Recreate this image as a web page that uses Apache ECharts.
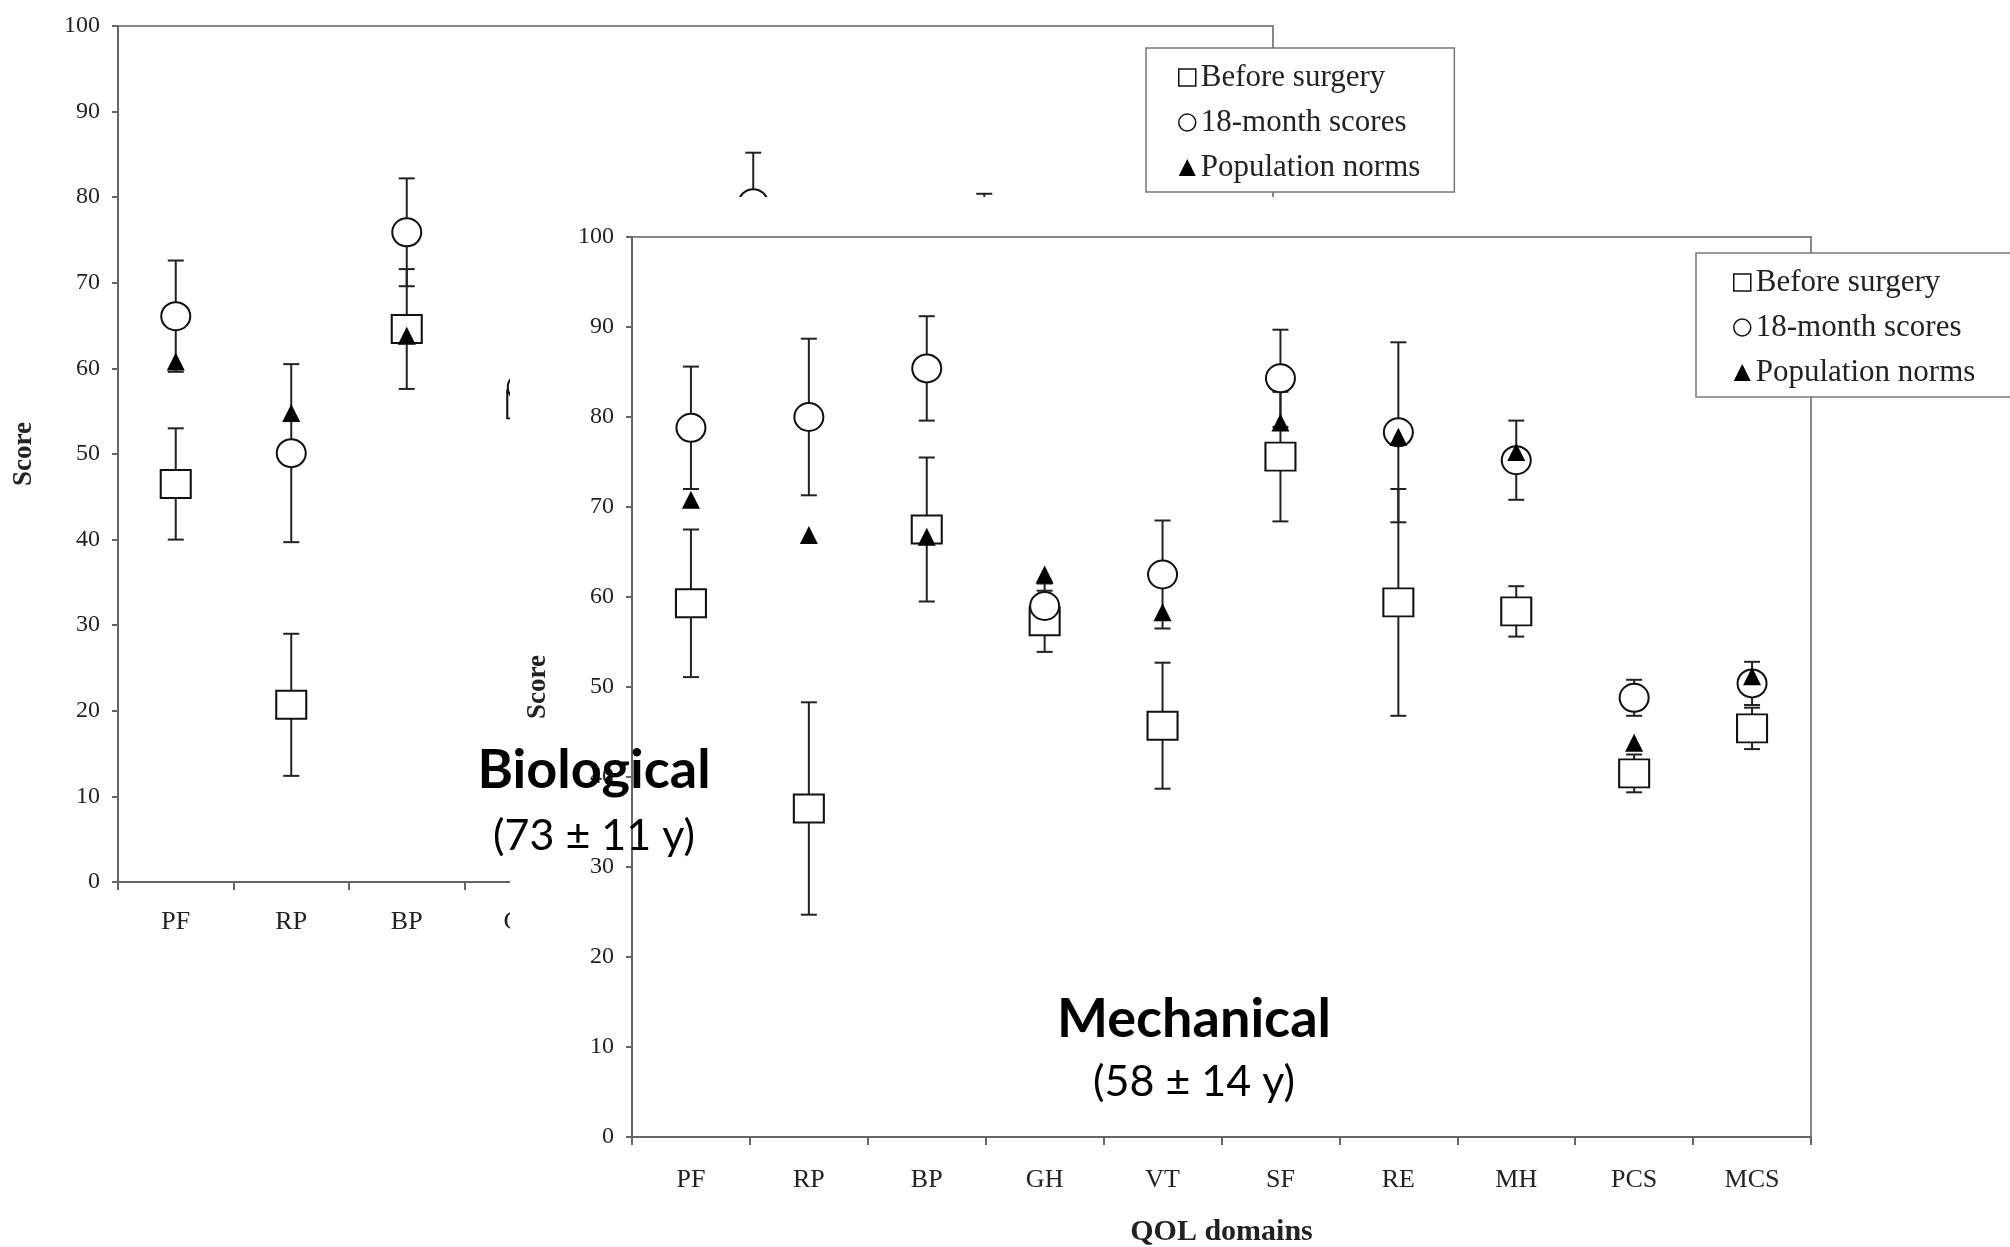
<!DOCTYPE html>
<html><head><meta charset="utf-8">
<script src="https://cdn.jsdelivr.net/npm/echarts@6/dist/echarts.min.js"></script>
<style>html,body{margin:0;padding:0;background:#fff}#c{width:2010px;height:1247px}</style>
</head><body><div id="c"></div>
<script>
// ---- data ----
const categories = ['PF','RP','BP','GH','VT','SF','RE','MH','PCS','MCS'];
const seriesNames = ['Before surgery','18-month scores','Population norms'];

// Mechanical (front chart)
const mechBefore   = [59.3, 36.5, 67.5, 57.3, 45.7, 75.6, 59.4, 58.4, 40.4, 45.4];
const mechBeforeSD = [8.2, 11.8, 8.0, 3.4, 7.0, 7.2, 12.6, 2.8, 2.1, 2.3];
const mech18       = [78.8, 80.0, 85.4, 59.0, 62.5, 84.3, 78.3, 75.2, 48.8, 50.4];
const mech18SD     = [6.8, 8.7, 5.8, 2.5, 6.0, 5.4, 10.0, 4.4, 2.0, 2.4];
const mechNorms    = [70.8, 66.9, 66.7, 62.5, 58.3, 79.4, 77.8, 76.1, 43.8, 51.2];

// Biological (back chart, mostly hidden behind the front chart)
const bioBefore   = [46.5, 20.7, 64.6, 55.8, null, null, null, null, null, null];
const bioBeforeSD = [6.5, 8.3, 7.0, null, null, null, null, null, null, null];
const bio18       = [66.1, 50.1, 75.9, 57.8, null, 79.3, null, 74.0, null, null];
const bio18SD     = [6.5, 10.4, 6.3, null, null, 5.9, null, 6.4, null, null];
const bioNorms    = [60.8, 54.8, 63.8, null, null, null, null, null, null, null];

const annotations = [
  {text: 'Biological', x: 594, y: 771, bold: true},
  {text: '(73 \u00B1 11 y)', x: 594, y: 836, bold: false},
  {text: 'Mechanical', x: 1194, y: 1020, bold: true},
  {text: '(58 \u00B1 14 y)', x: 1194, y: 1082, bold: false}
];

// ---- helpers ----
const SERIF = '"Liberation Serif","Times New Roman",serif';
function vals(a){ return a.map(v => v == null ? '-' : v); }
function errData(m, s){
  const out = [];
  m.forEach((v, i) => { if (v != null && s[i] != null) out.push([i, v, s[i]]); });
  return out;
}
function errRender(params, api){
  const i = api.value(0), m = api.value(1), s = api.value(2);
  const hi = api.coord([i, m + s]), lo = api.coord([i, m - s]);
  const x = hi[0], w = 8;
  const style = {stroke: '#222', lineWidth: 2, fill: null};
  return {type: 'group', children: [
    {type: 'line', shape: {x1: x, y1: hi[1], x2: x, y2: lo[1]}, style: style},
    {type: 'line', shape: {x1: x - w, y1: hi[1], x2: x + w, y2: hi[1]}, style: style},
    {type: 'line', shape: {x1: x - w, y1: lo[1], x2: x + w, y2: lo[1]}, style: style}
  ]};
}
function makeSeries(g, zb, before, beforeSD, m18, m18SD, norms){
  return [
    {type: 'custom', name: 'err-b-' + g, xAxisIndex: g, yAxisIndex: g, z: zb,
     renderItem: errRender, data: errData(before, beforeSD), encode: {x: 0, y: 1}, silent: true},
    {type: 'custom', name: 'err-m-' + g, xAxisIndex: g, yAxisIndex: g, z: zb,
     renderItem: errRender, data: errData(m18, m18SD), encode: {x: 0, y: 1}, silent: true},
    {type: 'scatter', name: seriesNames[0], xAxisIndex: g, yAxisIndex: g, z: zb + 1,
     symbol: 'rect', symbolSize: [30, 28], data: vals(before),
     itemStyle: {color: '#fff', borderColor: '#111', borderWidth: 2, opacity: 1}},
    {type: 'scatter', name: seriesNames[1], xAxisIndex: g, yAxisIndex: g, z: zb + 2,
     symbol: 'circle', symbolSize: [29, 28], data: vals(m18),
     itemStyle: {color: '#fff', borderColor: '#111', borderWidth: 2, opacity: 1}},
    {type: 'scatter', name: seriesNames[2], xAxisIndex: g, yAxisIndex: g, z: zb + 3,
     symbol: 'triangle', symbolSize: [18, 18], data: vals(norms),
     itemStyle: {color: '#000', opacity: 1}}
  ];
}
function makeLegend(left, top, padding, z){
  return {
    orient: 'vertical', left: left, top: top, padding: padding, itemGap: 14,
    itemWidth: 17, itemHeight: 17, z: z, selectedMode: false,
    backgroundColor: '#fff', borderColor: '#777', borderWidth: 1.5, borderRadius: 0,
    textStyle: {fontFamily: SERIF, fontSize: 31, color: '#222', lineHeight: 30},
    data: [
      {name: seriesNames[0], icon: 'rect', itemStyle: {color: '#fff', borderColor: '#111', borderWidth: 1.5}},
      {name: seriesNames[1], icon: 'circle', itemStyle: {color: '#fff', borderColor: '#111', borderWidth: 1.5}},
      {name: seriesNames[2], icon: 'triangle', itemStyle: {color: '#000', borderWidth: 0}}
    ]
  };
}
function xAx(g, z, name, margin){
  return {type: 'category', gridIndex: g, data: categories, z: z,
    boundaryGap: true,
    axisLine: {lineStyle: {color: '#666', width: 2}},
    axisTick: {show: true, length: 8, lineStyle: {color: '#666', width: 2}},
    axisLabel: {fontFamily: SERIF, fontSize: 26, color: '#222', margin: margin},
    name: name, nameLocation: 'middle', nameGap: 80,
    nameTextStyle: {fontFamily: SERIF, fontSize: 30, fontWeight: 'bold', color: '#222'}};
}
function yAx(g, z){
  return {type: 'value', gridIndex: g, min: 0, max: 100, interval: 10, z: z,
    axisLine: {show: true, lineStyle: {color: '#666', width: 2}},
    axisTick: {show: true, length: 6, lineStyle: {color: '#666', width: 2}},
    splitLine: {show: false},
    axisLabel: {fontFamily: SERIF, fontSize: 24, color: '#222', margin: 18},
    name: 'Score', nameLocation: 'middle', nameGap: 80,
    nameTextStyle: {fontFamily: SERIF, fontSize: 27, fontWeight: 'bold', color: '#222'}};
}

const chart = echarts.init(document.getElementById('c'), null, {renderer: 'canvas'});
const option = {
  backgroundColor: '#fff',
  animation: false,
  grid: [
    {left: 118, top: 26, width: 1155, height: 856, show: true, borderColor: '#888', borderWidth: 2, z: 0,
     containLabel: false, outerBoundsMode: 'none'},
    {left: 632, top: 237, width: 1179, height: 900, show: true, borderColor: '#888', borderWidth: 2, z: 11,
     containLabel: false, outerBoundsMode: 'none'}
  ],
  xAxis: [xAx(0, 1, '', 27), xAx(1, 12, 'QOL domains', 30)],
  yAxis: [yAx(0, 1), yAx(1, 12)],
  legend: [
    makeLegend(1146, 48, [14, 34, 9, 32], 6),
    makeLegend(1696, 253, [14, 80, 9, 37], 18)
  ],
  graphic: {elements: [
    {type: 'rect', left: 510, top: 197, z: 10,
     shape: {x: 0, y: 0, width: 1500, height: 1050},
     style: {fill: '#fff'}, silent: true}
  ].concat(annotations.map(a => ({
     type: 'text', x: a.x, y: a.y, z: 30, silent: true,
     style: {text: a.text, fill: '#000',
       font: (a.bold ? 'bold 54px' : '43px') + ' Lato, "Noto Sans", sans-serif',
       align: 'center', verticalAlign: 'middle',
       textAlign: 'center', textVerticalAlign: 'middle'}
  })))},
  series: makeSeries(0, 2, bioBefore, bioBeforeSD, bio18, bio18SD, bioNorms)
    .concat(makeSeries(1, 13, mechBefore, mechBeforeSD, mech18, mech18SD, mechNorms))
};
chart.setOption(option);
</script></body></html>
